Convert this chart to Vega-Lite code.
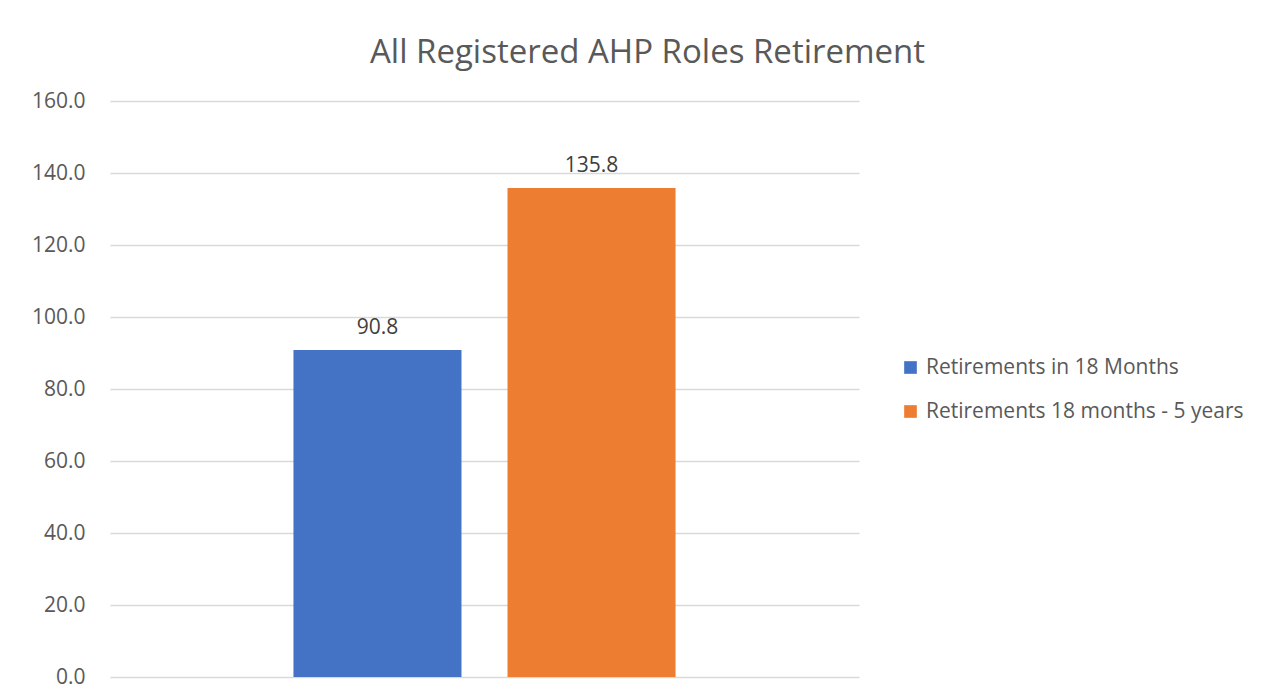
{
  "$schema": "https://vega.github.io/schema/vega-lite/v6.json",
  "width": 749,
  "height": 576,
  "autosize": {"type": "none"},
  "padding": {"left": 110, "top": 101, "right": 428, "bottom": 21},
  "background": "white",
  "config": {
    "view": {"stroke": null},
    "font": "Open Sans",
    "text": {"font": "Open Sans"}
  },
  "title": {
    "text": "All Registered AHP Roles Retirement",
    "fontSize": 33,
    "font": "Open Sans",
    "fontWeight": "normal",
    "color": "#595959",
    "anchor": "middle",
    "dx": 163,
    "offset": 20
  },
  "data": {
    "values": [
      {"series": "Retirements in 18 Months", "value": 90.8},
      {"series": "Retirements 18 months - 5 years", "value": 135.8}
    ]
  },
  "encoding": {
    "x": {
      "field": "series",
      "type": "nominal",
      "sort": null,
      "scale": {"paddingInner": 0.215, "paddingOuter": 0.857},
      "axis": null
    },
    "y": {
      "field": "value",
      "type": "quantitative",
      "scale": {"domain": [0, 160], "nice": false},
      "axis": {
        "title": null,
        "values": [0, 20, 40, 60, 80, 100, 120, 140, 160],
        "format": ".1f",
        "domain": false,
        "ticks": false,
        "labelPadding": 25,
        "labelFontSize": 21,
        "labelFont": "Open Sans",
        "labelColor": "#595959",
        "gridColor": "#d9d9d9",
        "gridWidth": 1.5
      }
    }
  },
  "layer": [
    {
      "mark": {"type": "bar"},
      "encoding": {
        "color": {
          "field": "series",
          "type": "nominal",
          "sort": null,
          "scale": {"range": ["#4472C4", "#ED7D31"]},
          "legend": {
            "title": null,
            "orient": "none",
            "legendX": 790,
            "legendY": 256,
            "symbolType": "square",
            "symbolSize": 160,
            "symbolStrokeWidth": 0,
            "labelFontSize": 21,
            "labelFont": "Open Sans",
            "labelColor": "#595959",
            "rowPadding": 22,
            "labelOffset": 5,
            "labelLimit": 400
          }
        }
      }
    },
    {
      "mark": {"type": "text", "baseline": "bottom", "dy": -12, "fontSize": 21, "font": "Open Sans", "color": "#404040"},
      "encoding": {
        "text": {"field": "value", "type": "quantitative", "format": ".1f"}
      }
    }
  ]
}
